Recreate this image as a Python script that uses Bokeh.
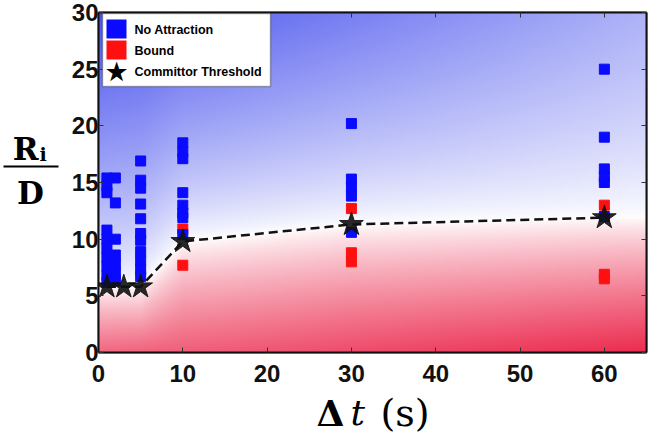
import numpy as np
from bokeh.plotting import figure
from bokeh.layouts import row, column
from bokeh.models import Label, BoxAnnotation, LinearAxis, Range1d, FixedTicker
from bokeh.embed import file_html
from bokeh.resources import INLINE

# ---------------- data ----------------
no_attr_x = [1, 1, 1, 1, 1, 1, 1, 1, 1, 1,
             2, 2, 2, 2, 2, 2, 2,
             5, 5, 5, 5, 5, 5, 5, 5, 5, 5, 5,
             10, 10, 10, 10, 10, 10, 10, 10,
             30, 30, 30, 30, 30,
             60, 60, 60, 60, 60, 60]
no_attr_y = [15.4, 14.7, 14.1, 10.8, 10.0, 9.2, 8.4, 7.6, 6.8, 6.2,
             15.4, 13.2, 10.0, 8.6, 7.8, 7.0, 6.3,
             16.9, 15.2, 14.5, 13.1, 11.8, 10.5, 9.9, 8.9, 8.1, 7.3, 6.7,
             18.5, 17.7, 17.1, 14.1, 13.0, 12.3, 11.9, 10.4,
             20.2, 15.3, 14.6, 13.8, 10.6,
             25.0, 19.0, 16.2, 15.5, 15.0, 12.0]
bound_x = [10, 10, 30, 30, 30, 60, 60, 60]
bound_y = [10.9, 7.7, 12.7, 8.8, 8.0, 13.0, 6.9, 6.5]
thr_x = [1, 3, 5, 10, 30, 60]
thr_y = [5.8, 5.8, 5.8, 9.8, 11.3, 11.9]
x_ticks = [0, 10, 20, 30, 40, 50, 60]
y_ticks = [0, 5, 10, 15, 20, 25, 30]
legend_labels = ["No Attraction", "Bound", "Committor Threshold"]

X_MAX, Y_MAX = 65, 30

# ---------------- background gradient (blue above threshold, red below) ----------------
nx, ny = 330, 170
gx = np.linspace(0, X_MAX, nx)
gy = np.linspace(0, Y_MAX, ny)
XX, YY = np.meshgrid(gx, gy)
T = np.interp(XX, thr_x, thr_y)
s_blue = np.clip((YY - T) / (Y_MAX - T), 0, 1) ** 0.75 * (1 - 0.55 * XX / X_MAX)
s_red = np.clip((T - YY) / T, 0, 1) ** 0.8 * (0.72 + 0.28 * XX / X_MAX)
blue0 = np.array([75, 85, 238])
red0 = np.array([236, 45, 80])
white = np.array([255, 255, 255])
rgb = white[None, None, :] * 1.0
rgb = rgb + (blue0 - white)[None, None, :] * s_blue[..., None]
rgb = rgb + (red0 - white)[None, None, :] * s_red[..., None]
img = np.zeros((ny, nx), dtype=np.uint32)
view = img.view(dtype=np.uint8).reshape((ny, nx, 4))
view[..., 0] = np.clip(rgb[..., 0], 0, 255).astype(np.uint8)
view[..., 1] = np.clip(rgb[..., 1], 0, 255).astype(np.uint8)
view[..., 2] = np.clip(rgb[..., 2], 0, 255).astype(np.uint8)
view[..., 3] = 255

YLAB_W = 60
MAIN_W, MAIN_H = 588, 392
XLAB_H = 42


def blank_fig(w, h):
    f = figure(width=w, height=h, x_range=Range1d(0, 1), y_range=Range1d(0, 1),
               output_backend="svg", toolbar_location=None,
               x_axis_type=None, y_axis_type=None,
               min_border=0, min_border_left=0, min_border_right=0,
               min_border_top=0, min_border_bottom=0)
    f.grid.visible = False
    f.outline_line_color = None
    f.background_fill_color = "white"
    f.border_fill_color = "white"
    return f


# ---------------- main figure ----------------
p = figure(width=MAIN_W, height=MAIN_H, x_range=Range1d(0, X_MAX), y_range=Range1d(0, Y_MAX),
           output_backend="svg", toolbar_location=None,
           min_border_left=38, min_border_right=2, min_border_top=12, min_border_bottom=40)
p.grid.visible = False
p.outline_line_color = "black"
p.outline_line_width = 1.5
p.background_fill_color = "white"
p.border_fill_color = "white"

p.image_rgba(image=[img], x=0, y=0, dw=X_MAX, dh=Y_MAX)

p.scatter(bound_x, bound_y, marker="square", size=10, color="#ff1010")
p.scatter(no_attr_x, no_attr_y, marker="square", size=10, color="#0a0aff")
p.line(thr_x, thr_y, line_color="#111111", line_width=2.5, line_dash="9 5")
p.scatter(thr_x, thr_y, marker="star", size=25, color="#111111", alpha=0.9)

TICK_FONT = "Liberation Sans"
for ax, ticks in ((p.xaxis[0], x_ticks), (p.yaxis[0], y_ticks)):
    ax.ticker = FixedTicker(ticks=ticks)
    ax.major_label_text_font = TICK_FONT
    ax.major_label_text_font_style = "bold"
    ax.major_label_text_font_size = "24px"
    ax.major_label_text_color = "#111111"
    ax.major_tick_in = 5
    ax.major_tick_out = 0
    ax.minor_tick_in = 0
    ax.minor_tick_out = 0
    ax.axis_line_width = 2
    ax.axis_line_color = "#111111"
    ax.major_tick_line_color = "#333333"
p.xaxis[0].major_label_standoff = 12
p.yaxis[0].major_label_standoff = 0

for loc, ticks in (("right", y_ticks), ("above", x_ticks)):
    a = LinearAxis(ticker=FixedTicker(ticks=ticks),
                   major_label_overrides={t: "" for t in ticks},
                   major_label_standoff=0, major_tick_in=5, major_tick_out=0,
                   minor_tick_in=0, minor_tick_out=0,
                   axis_line_width=2, axis_line_color="#111111",
                   major_tick_line_color="#333333", major_label_text_font_size="1px")
    p.add_layout(a, loc)

# ---------------- legend (drawn from annotations, frame-relative) ----------------
def sbox(**kw):
    return BoxAnnotation(left_units="screen", right_units="screen",
                         top_units="screen", bottom_units="screen", **kw)

p.add_layout(sbox(left=4, right=172, bottom=266, top=339, fill_color="white", fill_alpha=1,
                  line_color="black", line_width=1.5))
p.add_layout(sbox(left=8, right=28, bottom=314, top=333, fill_color="#0a0aff", fill_alpha=1,
                  line_color=None))
p.add_layout(sbox(left=8, right=28, bottom=293, top=312, fill_color="#ff1010", fill_alpha=1,
                  line_color=None))
p.add_layout(Label(x=18, y=281, x_units="screen", y_units="screen", text="★",
                   text_font="DejaVu Sans", text_font_size="27px",
                   text_align="center", text_baseline="middle", text_color="black"))
for lab, yy in zip(legend_labels, (323, 302, 281)):
    p.add_layout(Label(x=36, y=yy, x_units="screen", y_units="screen", text=lab,
                       text_font="Liberation Sans", text_font_style="bold",
                       text_font_size="12.5px", text_align="left",
                       text_baseline="middle", text_color="black"))

# ---------------- y title: fraction R_i / D ----------------
SERIF = "DejaVu Serif"
TOTAL_H = MAIN_H + XLAB_H
yf = blank_fig(YLAB_W, TOTAL_H)
yf.add_layout(Label(x=38, y=TOTAL_H - 148, x_units="screen", y_units="screen", text="R",
                    text_font=SERIF, text_font_style="bold", text_font_size="31px",
                    text_align="right", text_baseline="alphabetic", text_color="black"))
yf.add_layout(Label(x=39, y=TOTAL_H - 153, x_units="screen", y_units="screen", text="i",
                    text_font=SERIF, text_font_style="bold", text_font_size="19px",
                    text_align="left", text_baseline="alphabetic", text_color="black"))
yf.add_layout(BoxAnnotation(left=3, right=58, bottom=TOTAL_H - 167, top=TOTAL_H - 165,
                            left_units="screen", right_units="screen",
                            top_units="screen", bottom_units="screen",
                            fill_color="black", fill_alpha=1, line_color=None))
yf.add_layout(Label(x=30, y=TOTAL_H - 192, x_units="screen", y_units="screen", text="D",
                    text_font=SERIF, text_font_style="bold", text_font_size="31px",
                    text_align="center", text_baseline="alphabetic", text_color="black"))

# ---------------- x title: Δt (s) ----------------
xf = blank_fig(MAIN_W, XLAB_H)
base = 22
xf.add_layout(Label(x=218, y=base, x_units="screen", y_units="screen", text="Δ",
                    text_font=SERIF, text_font_style="bold", text_font_size="36px",
                    text_align="left", text_baseline="alphabetic", text_color="black"))
xf.add_layout(Label(x=252, y=base, x_units="screen", y_units="screen", text="t",
                    text_font=SERIF, text_font_style="italic", text_font_size="36px",
                    text_align="left", text_baseline="alphabetic", text_color="black"))
xf.add_layout(Label(x=282, y=base, x_units="screen", y_units="screen", text="(s)",
                    text_font=SERIF, text_font_size="38px",
                    text_align="left", text_baseline="alphabetic", text_color="black"))

layout = row(yf, column(p, xf, spacing=0), spacing=0)
open("out.html", "w").write(file_html(layout, INLINE))
